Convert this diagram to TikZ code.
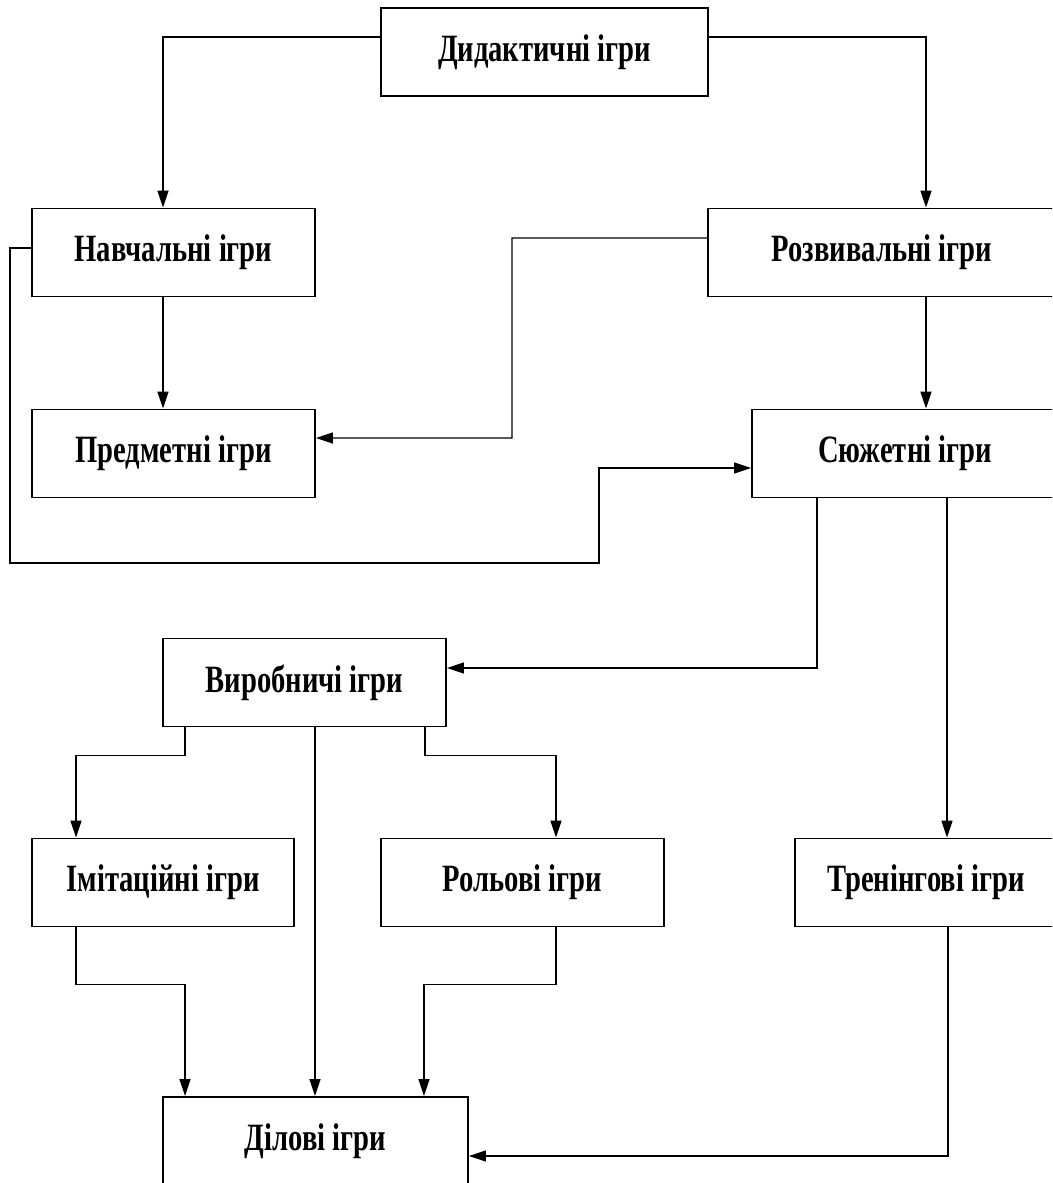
\documentclass[tikz,border=0pt]{standalone}
\usepackage{fontspec}
\setmainfont{Liberation Serif}[FakeStretch=0.74]
\usepackage{tikz}
\usetikzlibrary{arrows.meta, positioning, calc}

\begin{document}
\begin{tikzpicture}[
        x=0.02cm, y=-0.02cm,
        gamebox/.style={draw, line width=1.1pt, minimum height=1.76cm,
                        inner sep=0pt, font=\bfseries\fontsize{22}{24}\selectfont},
        link/.style={-{Triangle[length=0.34cm, width=0.22cm]}, line width=0.8pt},
      ]
        \clip (0,0) rectangle (1052,1183);

        % boxes
        \node[gamebox, minimum width=6.54cm] (did) at (544.5, 52) {Дидактичні ігри};
        \node[gamebox, minimum width=5.66cm] (nav) at (173.5, 252.5) {Навчальні ігри};
        \node[gamebox, minimum width=6.96cm] (roz) at (882, 252.5) {Розвивальні ігри};
        \node[gamebox, minimum width=5.66cm] (pred) at (173.5, 453.5) {Предметні ігри};
        \node[gamebox, minimum width=6.12cm] (syu) at (905, 453.5) {Сюжетні ігри};
        \node[gamebox, minimum width=5.66cm] (vyr) at (304.5, 682.5) {Виробничі ігри};
        \node[gamebox, minimum width=5.24cm] (imi) at (163, 882.5) {Імітаційні ігри};
        \node[gamebox, minimum width=5.66cm] (rol) at (522.5, 882.5) {Рольові ігри};
        \node[gamebox, minimum width=5.24cm] (tre) at (926, 882.5) {Тренінгові ігри};
        \node[gamebox, minimum width=6.10cm] (dil) at (315.5, 1141) {Ділові ігри};

        \coordinate (rp) at (512, 438);
        \coordinate (loopA) at (10, 563);
        \coordinate (loopB) at (599, 563);

        % top level
        \draw[link] ([yshift=0.3cm]did.west) -| ([xshift=-0.21cm]nav.north);
        \draw[link] ([yshift=0.3cm]did.east) -| ([xshift=0.88cm]roz.north);

        \draw[link] ([xshift=-0.21cm]nav.south) -- ([xshift=-0.21cm]pred.north);
        \draw[link] ([yshift=0.29cm]roz.west) -| (rp) -- ([yshift=0.31cm]pred.east);
        \draw[link] ([xshift=0.88cm]roz.south) -- ([xshift=0.88cm]roz.south |- syu.north);
        \draw[link] ([yshift=0.09cm]nav.west) -| (loopA) -- (loopB)
          |- ([yshift=-0.29cm]syu.west);

        % from the plot games
        \draw[link] ([xshift=-1.76cm]syu.south) |- ([yshift=0.29cm]vyr.east);
        \draw[link] ([xshift=0.84cm]syu.south) -- ([xshift=0.84cm]syu.south |- tre.north);

        % production games
        \draw[link] ([xshift=-2.39cm]vyr.south) -- ++(0,28) -| ([xshift=-1.74cm]imi.north);
        \draw[link] ([xshift=0.21cm]vyr.south) -- ([xshift=0.21cm]vyr.south |- dil.north);
        \draw[link] ([xshift=2.41cm]vyr.south) -- ++(0,28) -| ([xshift=0.67cm]rol.north);

        % into business games
        \draw[link] ([xshift=-1.74cm]imi.south) -- ++(0,57) -| ([xshift=-2.61cm]dil.north);
        \draw[link] ([xshift=0.67cm]rol.south) -- ++(0,57) -| ([xshift=2.17cm]dil.north);
        \draw[link] ([xshift=0.44cm]tre.south) |- ([yshift=-0.3cm]dil.east);
      \end{tikzpicture}
\end{document}
